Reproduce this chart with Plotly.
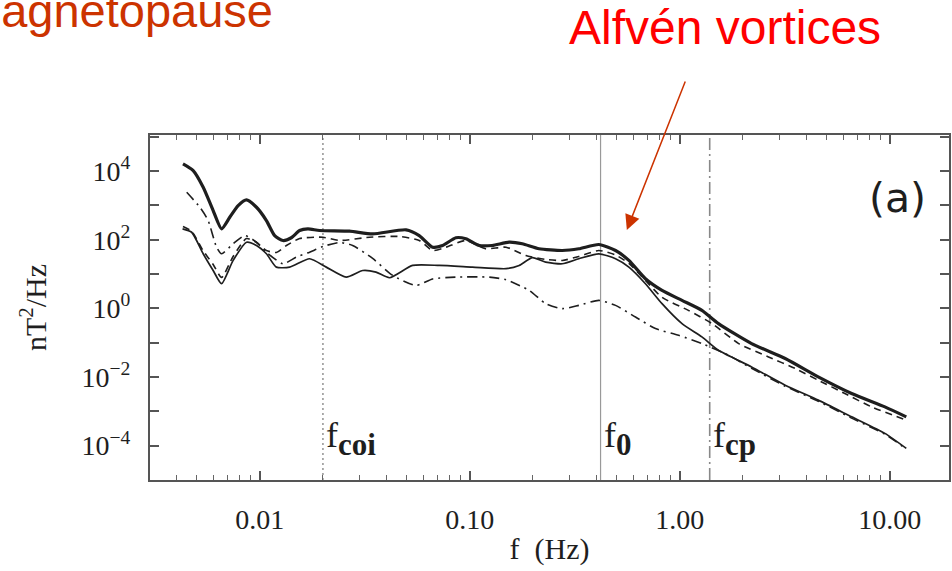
import math
import plotly.graph_objects as go

# ---- data (frequency in Hz, PSD in nT^2/Hz) ----
freq_total = [0.00431, 0.00482, 0.00538, 0.00600, 0.00658, 0.00720, 0.00789, 0.00865, 0.00965,
              0.01076, 0.01178, 0.0129, 0.01414, 0.01549, 0.01696, 0.01928, 0.02677, 0.0345,
              0.0498, 0.0575, 0.0666, 0.0743, 0.0860, 0.0959, 0.111, 0.128, 0.154, 0.178,
              0.214, 0.276, 0.331, 0.412, 0.495, 0.573, 0.687, 0.824, 1.026, 1.276, 1.53,
              2.20, 3.18, 4.57, 6.59, 9.49, 12.0]
psd_total = [16070, 10300, 3360, 706, 207, 451, 987, 1445, 881, 362, 132, 94.8, 114, 185, 207,
             185, 177, 148, 194, 132, 60.5, 67.8, 114, 106, 67.8, 67.8, 84.6, 76, 54.4, 48.5,
             54.4, 72.5, 48.5, 24.9, 7.3, 3.34, 1.71, 0.875, 0.359, 0.0942, 0.0345, 0.0101,
             0.00331, 0.00135, 0.000692]

freq_dashed = [0.00431, 0.00475, 0.00537, 0.0060, 0.00658, 0.00747, 0.00865, 0.00965, 0.01076,
               0.0120, 0.0134, 0.01549, 0.0200, 0.0240, 0.0333, 0.0462, 0.0575, 0.0666, 0.0771,
               0.0959, 0.119, 0.149, 0.185, 0.230, 0.276, 0.331, 0.412, 0.495, 0.573, 0.687,
               0.824, 1.10, 1.42, 1.91, 2.65, 3.55, 4.57, 6.12, 8.20, 12.0]
psd_dashed = [242, 173, 48.5, 19.0, 7.97, 32.5, 108, 83, 48.5, 42.5, 67.8, 108, 118, 94.8, 118,
              124, 94.8, 48.5, 60.5, 94.8, 54.4, 60.5, 34.7, 26.6, 24.9, 32.5, 48.5, 35.9, 20.3,
              6.52, 2.09, 0.875, 0.366, 0.0942, 0.0384, 0.0177, 0.00807, 0.00331, 0.00135,
              0.000555]

freq_thin = [0.00429, 0.00474, 0.00538, 0.00600, 0.00658, 0.00747, 0.00865, 0.00965, 0.01076,
             0.0120, 0.01388, 0.01728, 0.02074, 0.0258, 0.03095, 0.0358, 0.0415, 0.0535, 0.0716,
             0.103, 0.149, 0.172, 0.199, 0.230, 0.276, 0.331, 0.412, 0.495, 0.573, 0.687,
             0.824, 1.026, 1.276, 1.53, 2.20, 3.18, 4.57, 6.59, 9.49, 12.0]
psd_thin = [207, 165, 38.9, 12.7, 5.22, 24.9, 84.6, 67.8, 38.9, 15.9, 15.9, 27.9, 15.9, 8.13,
            12.7, 11.4, 7.8, 17.8, 17.8, 15.9, 14.3, 17.8, 30, 22.2, 19.9, 27.9, 38.9, 27.9,
            15.9, 5.22, 1.37, 0.359, 0.147, 0.0601, 0.0197, 0.00578, 0.00212, 0.000692,
            0.000228, 0.0000835]

freq_dashdot = [0.00449, 0.00519, 0.00568, 0.00623, 0.00658, 0.00747, 0.00849, 0.00965, 0.01076,
                0.0129, 0.01494, 0.01728, 0.0200, 0.0240, 0.0277, 0.0345, 0.0430, 0.0555,
                0.0666, 0.0860, 0.124, 0.149, 0.192, 0.230, 0.276, 0.331, 0.412, 0.495, 0.616,
                0.767, 0.989, 1.276, 1.71, 2.20, 3.18, 4.57, 6.59, 9.49, 12.0]
psd_dashdot = [2400, 881, 362, 60.5, 38.9, 76, 132, 84.6, 43.3, 19.9, 31.0, 43.3, 63.4, 83, 67.8,
               28.4, 9.1, 4.66, 7.2, 8.13, 8.13, 6.8, 3.34, 1.37, 0.98, 1.22, 1.71, 1.22, 0.559,
               0.257, 0.164, 0.0942, 0.043, 0.018, 0.0054, 0.00198, 0.000634, 0.000217,
               0.0000796]

# characteristic frequencies (Hz) and their labels
char_freqs = [0.02, 0.42, 1.39]
char_names = ["f", "f", "f"]
char_subs = ["coi", "0", "cp"]

x_tickvals = [0.01, 0.1, 1, 10]
x_ticktext = ["0.01", "0.10", "1.00", "10.00"]
x_minor = [0.004, 0.005, 0.006, 0.007, 0.008, 0.009,
           0.02, 0.03, 0.04, 0.05, 0.06, 0.07, 0.08, 0.09,
           0.2, 0.3, 0.4, 0.5, 0.6, 0.7, 0.8, 0.9,
           2, 3, 4, 5, 6, 7, 8, 9]
y_tickvals = [1e-4, 1e-2, 1, 1e2, 1e4]
y_ticktext = ["10<sup>−4</sup>", "10<sup>−2</sup>", "10<sup>0</sup>",
              "10<sup>2</sup>", "10<sup>4</sup>"]
y_minor = [1e-5, 1e-3, 1e-1, 1e1, 1e3, 1e5]

SERIF = "Liberation Serif"
INK = "#1e1e1e"

fig = go.Figure()
fig.add_trace(go.Scatter(x=freq_thin, y=psd_thin, mode="lines",
                         line=dict(color=INK, width=1.7, shape="spline", smoothing=0.6)))
fig.add_trace(go.Scatter(x=freq_dashdot, y=psd_dashdot, mode="lines",
                         line=dict(color=INK, width=1.6, dash="10px,5px,2px,5px",
                                   shape="spline", smoothing=0.6)))
fig.add_trace(go.Scatter(x=freq_dashed, y=psd_dashed, mode="lines",
                         line=dict(color=INK, width=1.6, dash="7px,5px",
                                   shape="spline", smoothing=0.6)))
fig.add_trace(go.Scatter(x=freq_total, y=psd_total, mode="lines",
                         line=dict(color=INK, width=3.2, shape="spline", smoothing=0.6)))

# vertical lines at characteristic frequencies
vstyles = [dict(color="#777", width=1.2, dash="2px,3px"),
           dict(color="#999", width=1.2),
           dict(color="#888", width=1.6, dash="12px,4px,2px,4px")]
for fv, st in zip(char_freqs, vstyles):
    fig.add_shape(type="line", xref="x", yref="paper", x0=fv, x1=fv, y0=0, y1=1,
                  line=st, layer="below")

for fv, nm, sb in zip(char_freqs, char_names, char_subs):
    lab = nm + '<sub><span style="font-size:31px;font-weight:bold">' + sb + '</span></sub>'
    fig.add_annotation(x=math.log10(fv), xref="x", y=0.12, yref="paper", text=lab,
                       showarrow=False, xanchor="left", yanchor="middle", xshift=1,
                       font=dict(family=SERIF, size=36, color=INK))

fig.add_annotation(x=0.936, y=0.817, xref="paper", yref="paper", text="(a)", showarrow=False,
                   xanchor="center", yanchor="middle",
                   font=dict(family="DejaVu Sans", size=41, color=INK))

# outside annotations
fig.add_annotation(x=0.5218, y=1.313, xref="paper", yref="paper", text="Alfvén vortices",
                   showarrow=False, xanchor="left", yanchor="middle",
                   font=dict(family="Liberation Sans", size=48, color="#FF0000"))
fig.add_annotation(x=-0.2372, y=1.361, xref="paper", yref="paper", text="Magnetopause",
                   showarrow=False, xanchor="left", yanchor="middle",
                   font=dict(family="Liberation Sans", size=47, color="#CC3300"))
fig.add_annotation(x=0.5968, y=0.7246, xref="paper", yref="paper", text="",
                   showarrow=True, ax=59, ay=-150, axref="pixel", ayref="pixel",
                   arrowhead=2, arrowsize=2, arrowwidth=1.5, arrowcolor="#CC3300")

fig.update_xaxes(type="log", range=[-2.5226, 1.2827], showgrid=False, zeroline=False,
                 showline=True, linecolor="#555", linewidth=2, mirror="ticks",
                 ticks="inside", ticklen=9, tickwidth=1.5, tickcolor="#555",
                 tickmode="array", tickvals=x_tickvals, ticktext=x_ticktext,
                 tickfont=dict(family=SERIF, size=28, color=INK), ticklabelstandoff=13,
                 minor=dict(ticks="inside", ticklen=5, tickwidth=1.2, tickcolor="#666",
                            tickmode="array", tickvals=x_minor),
                 title=dict(text="f  (Hz)", font=dict(family=SERIF, size=30, color=INK),
                            standoff=4))
fig.update_yaxes(type="log", range=[-5, 5.05], showgrid=False, zeroline=False,
                 showline=True, linecolor="#555", linewidth=2, mirror="ticks",
                 ticks="inside", ticklen=9, tickwidth=1.5, tickcolor="#555",
                 tickmode="array", tickvals=y_tickvals, ticktext=y_ticktext,
                 tickfont=dict(family=SERIF, size=28, color=INK), ticklabelstandoff=12,
                 minor=dict(ticks="inside", ticklen=9, tickwidth=1.5, tickcolor="#555",
                            tickmode="array", tickvals=y_minor),
                 title=dict(text="nT<sup>2</sup>/Hz", font=dict(family=SERIF, size=30, color=INK),
                            standoff=26))

fig.update_layout(width=952, height=571, showlegend=False,
                  margin=dict(l=150, r=1, t=135, b=91),
                  paper_bgcolor="white", plot_bgcolor="white")

fig.write_html("out.html")
